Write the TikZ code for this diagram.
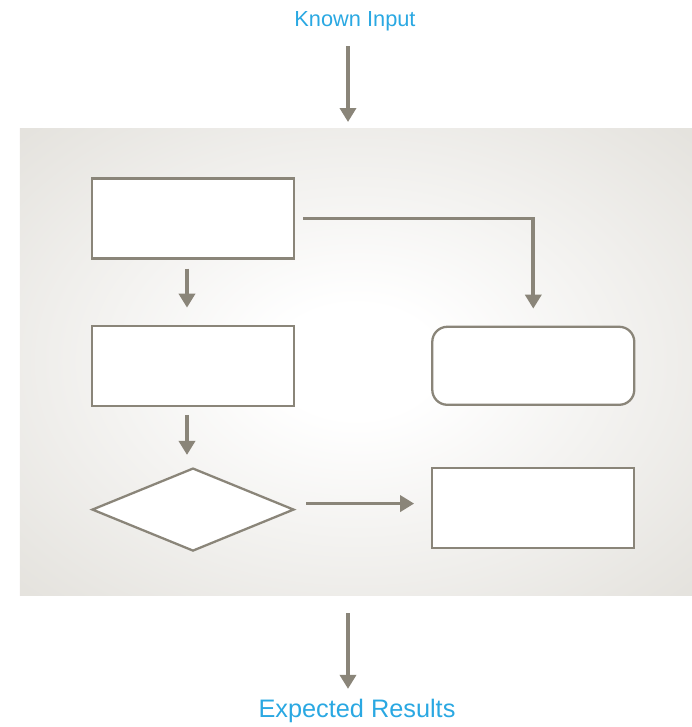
\documentclass[tikz,border=0pt]{standalone}
\usepackage{fontspec}
\setmainfont{Liberation Sans}
\usepackage{xcolor}
\usepackage{tikz}
\usetikzlibrary{positioning, arrows.meta, shapes.geometric}

\definecolor{linegray}{HTML}{8A8579}
\definecolor{panelgray}{HTML}{D9D6CF}
\definecolor{textblue}{HTML}{2AA8E2}
\pgfdeclareradialshading{panelshade}{\pgfpoint{0bp}{0bp}}{color(0bp)=(white); color(6bp)=(white); color(48bp)=(panelgray); color(75bp)=(panelgray)}

\begin{document}
\begin{tikzpicture}[
    box/.style={draw=linegray, line width=1.3pt, fill=white, minimum width=4.04cm, minimum height=1.6cm, inner sep=0pt},
    roundbox/.style={box, rounded corners=0.3cm, minimum height=1.56cm},
    decision/.style={draw=linegray, line width=1.3pt, fill=white, diamond, aspect=2.4, minimum width=4.04cm, minimum height=1.66cm, inner sep=0pt},
    flow/.style={draw=linegray, line width=2.1pt, -{Triangle[width=0.32cm, length=0.28cm]}},
    label/.style={text=textblue, inner sep=0pt}
]
\useasboundingbox (0,0) rectangle (13.84,-14.54);
% background panel
\shade[shading=panelshade] (0.4,-2.56) rectangle (13.84,-11.9);

\node[label, font=\fontsize{12.4}{14}\selectfont] (input) at (7.1,-0.42) {Known Input};
\node[label, font=\fontsize{14.4}{16}\selectfont] (results) at (7.14,-14.22) {Expected Results};
\coordinate (paneltop) at (6.96,-2.44);
\coordinate (panelbot) at (6.96,-12.26);

\node[box] (first) at (3.86,-4.37) {};
\node[box, below=1.3cm of first] (second) {};
\node[decision, below=1.2cm of second] (check) {};
\node[roundbox, right=2.72cm of second] (side) {};
\node[box, below=1.22cm of side] (last) {};

\draw[flow] (input.south -| paneltop) ++(0,-0.3) -- (paneltop);
\draw[flow] ([xshift=0.16cm]first.east) -| ([yshift=0.34cm]side.north);
\draw[flow, shorten <=0.18cm, shorten >=0.34cm] ([xshift=-0.12cm]first.south) -- ([xshift=-0.12cm]second.north);
\draw[flow, shorten <=0.16cm, shorten >=0.24cm] ([xshift=-0.12cm]second.south) -- ([xshift=-0.12cm]second.south |- check.north);
\draw[flow, shorten <=0.22cm, shorten >=0.34cm] ([yshift=0.12cm]check.east) -- ([yshift=0.12cm]check.east -| last.west);
\draw[flow] (panelbot) -- ([yshift=0.2cm]panelbot |- results.north);
\end{tikzpicture}
\end{document}
